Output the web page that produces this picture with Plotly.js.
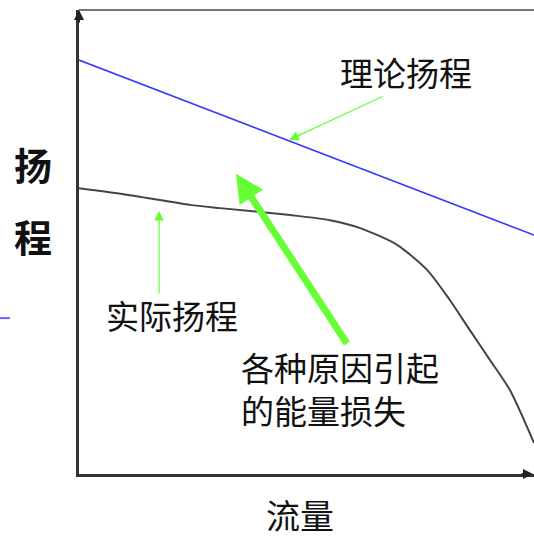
<!DOCTYPE html>
<html>
<head>
<meta charset="utf-8">
<script src="https://cdn.plot.ly/plotly-3.0.1.min.js"></script>
<style>
  html, body { margin: 0; padding: 0; background: #fff; }
  #myDiv { width: 534px; height: 537px; }
</style>
</head>
<body>
<div id="myDiv"></div>
<script>
// theoretical head (straight line) and actual head (curve), flow 0..100
var theoryX = [0, 100],
    theoryY = [89.2, 51.5];

var actualX = [0, 11.2, 24.4, 31.0, 46.4, 55.2, 61.8, 69.9, 76.5, 81.5, 85.9, 90.3, 94.7, 100],
    actualY = [61.6, 60.1, 58.0, 57.3, 55.8, 54.7, 53.0, 49.4, 44.0, 37.5, 31.0, 24.6, 18.1, 6.7];

var labelTheory = '理论扬程',
    labelActual = '实际扬程',
    labelLoss = '各种原因引起<br>的能量损失',
    labelY = ['扬', '程'],
    labelX = '流量';

var cjk = '"Noto Sans CJK SC", "Noto Sans", sans-serif';

var data = [{
    x: theoryX,
    y: theoryY,
    mode: 'lines',
    line: {color: '#3a3aff', width: 1.6},
    hoverinfo: 'skip',
    type: 'scatter'
}, {
    x: actualX,
    y: actualY,
    mode: 'lines',
    line: {color: '#444', width: 2, shape: 'spline', smoothing: 0.7},
    hoverinfo: 'skip',
    type: 'scatter'
}];

function arrow(x, y, ax, ay, w, size) {
    return {
        x: x, y: y, ax: ax, ay: ay,
        xref: 'x', yref: 'y', axref: 'x', ayref: 'y',
        text: '', showarrow: true,
        arrowhead: 2, arrowsize: size, arrowwidth: w,
        arrowcolor: '#66ff33', standoff: 0, startstandoff: 0
    };
}

function label(x, y, ref, txt, size, xanchor) {
    return {
        x: x, y: y, xref: ref, yref: ref, text: txt, showarrow: false,
        xanchor: xanchor || 'center', yanchor: 'middle', align: 'left',
        font: {family: cjk, size: size, color: '#111'}
    };
}

var annotations = [
    arrow(46.2, 72.0, 67.0, 81.5, 1.2, 1.6),
    arrow(17.6, 56.7, 17.6, 38.6, 1.2, 1.6),
    arrow(34.5, 64.7, 59.1, 27.8, 7, 0.8),
    label(71.9, 86.6, 'x', labelTheory, 33),
    label(20.4, 34.3, 'x', labelActual, 33),
    label(35.2, 18.5, 'x', labelLoss, 33, 'left'),
    label(-0.101, 0.670, 'paper', '<b>' + labelY[0] + '</b>', 38),
    label(-0.101, 0.515, 'paper', '<b>' + labelY[1] + '</b>', 38),
    label(0.486, -0.088, 'paper', labelX, 34),
    // axis arrowheads
    {x: 0, y: 1, xref: 'paper', yref: 'paper', ax: 0, ay: 14, text: '', showarrow: true,
     arrowhead: 2, arrowsize: 1, arrowwidth: 2, arrowcolor: '#222', standoff: 0},
    {x: 1, y: 0, xref: 'paper', yref: 'paper', ax: -14, ay: 0, text: '', showarrow: true,
     arrowhead: 2, arrowsize: 1, arrowwidth: 2, arrowcolor: '#222', standoff: 0}
];

var layout = {
    width: 534,
    height: 537,
    margin: {l: 79, r: 0, t: 10, b: 63},
    showlegend: false,
    paper_bgcolor: '#fff',
    plot_bgcolor: '#fff',
    xaxis: {range: [0, 100], showline: true, linewidth: 3, linecolor: '#333',
            showgrid: false, zeroline: false, showticklabels: false, ticks: '', fixedrange: true},
    yaxis: {range: [0, 100], showline: true, linewidth: 3, linecolor: '#333',
            showgrid: false, zeroline: false, showticklabels: false, ticks: '', fixedrange: true},
    shapes: [
        {type: 'line', xref: 'paper', yref: 'paper', x0: 0, x1: 1, y0: 1, y1: 1,
         line: {color: '#777', width: 2}},
        {type: 'line', xref: 'paper', yref: 'paper', x0: -0.174, x1: -0.152, y0: 0.336, y1: 0.336,
         line: {color: '#6666ff', width: 2}}
    ],
    annotations: annotations
};

Plotly.newPlot('myDiv', data, layout, {displayModeBar: false, staticPlot: true});
</script>
</body>
</html>
